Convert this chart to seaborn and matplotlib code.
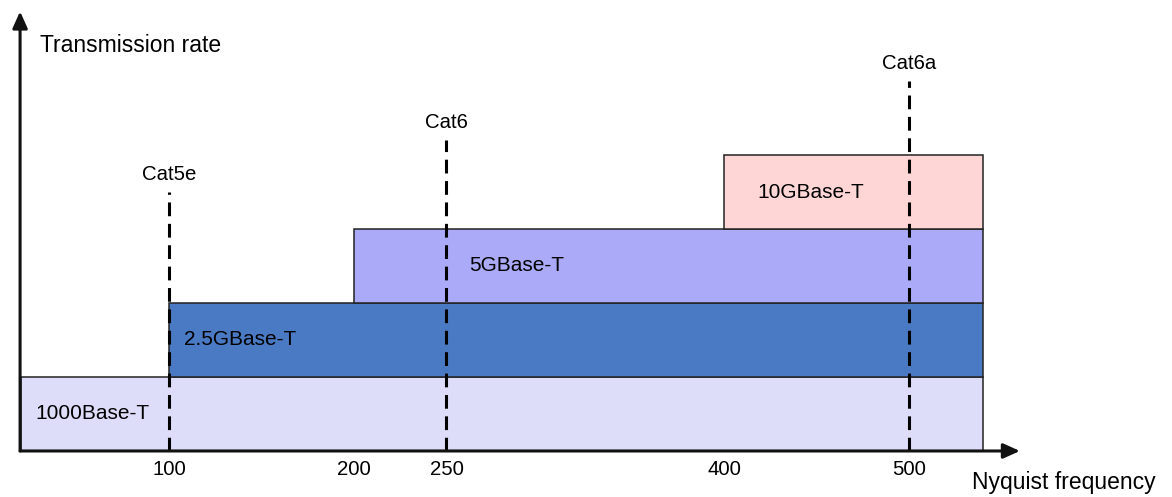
import matplotlib
matplotlib.use('Agg')
import seaborn as sns
import matplotlib.pyplot as plt

# Données du graphique
standards = ['1000Base-T', '2.5GBase-T', '5GBase-T', '10GBase-T']
freq_start = [20, 100, 200, 400]
freq_end = [540, 540, 540, 540]
colors = ['#DDDDF9', '#4A7AC4', '#AAAAF8', '#FFD6D6']

cables = ['Cat5e', 'Cat6', 'Cat6a']
cable_freq = [100, 250, 500]
cable_top = [3.5, 4.2, 5.0]

tick_values = [100, 200, 250, 400, 500]

sns.set_style('white')
plt.rcParams['font.family'] = ['Liberation Sans', 'DejaVu Sans']
plt.rcParams['text.color'] = 'black'

fig = plt.figure(figsize=(11.72, 4.97), dpi=100)
ax = fig.add_axes([0, 0, 1, 1])
ax.set_xlim(8.65, 642.2)
ax.set_ylim(-0.622, 6.095)
ax.axis('off')

# Barres horizontales empilées par niveau
levels = list(range(len(standards)))
widths = [e - s for s, e in zip(freq_start, freq_end)]
ax.barh(levels, widths, left=freq_start, height=1, align='edge',
        color=colors, edgecolor='#222222', linewidth=1.1, zorder=2)

# Libellés des standards
label_dx = [8, 8, 62, 18]
for lvl, name, s, dx in zip(levels, standards, freq_start, label_dx):
    ax.text(s + dx, lvl + 0.5, name, fontsize=15, ha='left', va='center', zorder=4)

# Lignes pointillées des catégories de câble
for name, f, top in zip(cables, cable_freq, cable_top):
    ax.plot([f, f], [0, top], color='black', linewidth=2.2,
            linestyle=(0, (4.5, 2.5)), zorder=3)
    ax.text(f, top + 0.24, name, fontsize=14.7, ha='center', va='center')

# Graduations
for v in tick_values:
    ax.text(v, -0.25, str(v), fontsize=14.7, ha='center', va='center')

# Axes avec flèches
ax.annotate('', xy=(560, 0), xytext=(19.5, 0),
            arrowprops=dict(arrowstyle='-|>,head_length=1.0,head_width=0.45',
                            color='#111111', lw=2.2, shrinkA=0, shrinkB=0), zorder=5)
ax.annotate('', xy=(19.5, 5.94), xytext=(19.5, 0),
            arrowprops=dict(arrowstyle='-|>,head_length=1.0,head_width=0.45',
                            color='#111111', lw=2.2, shrinkA=0, shrinkB=0), zorder=5)

ax.text(40 / 1172, 1 - 45 / 497, 'Transmission rate', fontsize=16.5,
        transform=ax.transAxes, ha='left', va='center')
ax.text(972 / 1172, 1 - 482 / 497, 'Nyquist frequency', fontsize=16.5,
        transform=ax.transAxes, ha='left', va='center')

fig.savefig('out.png', dpi=100)
